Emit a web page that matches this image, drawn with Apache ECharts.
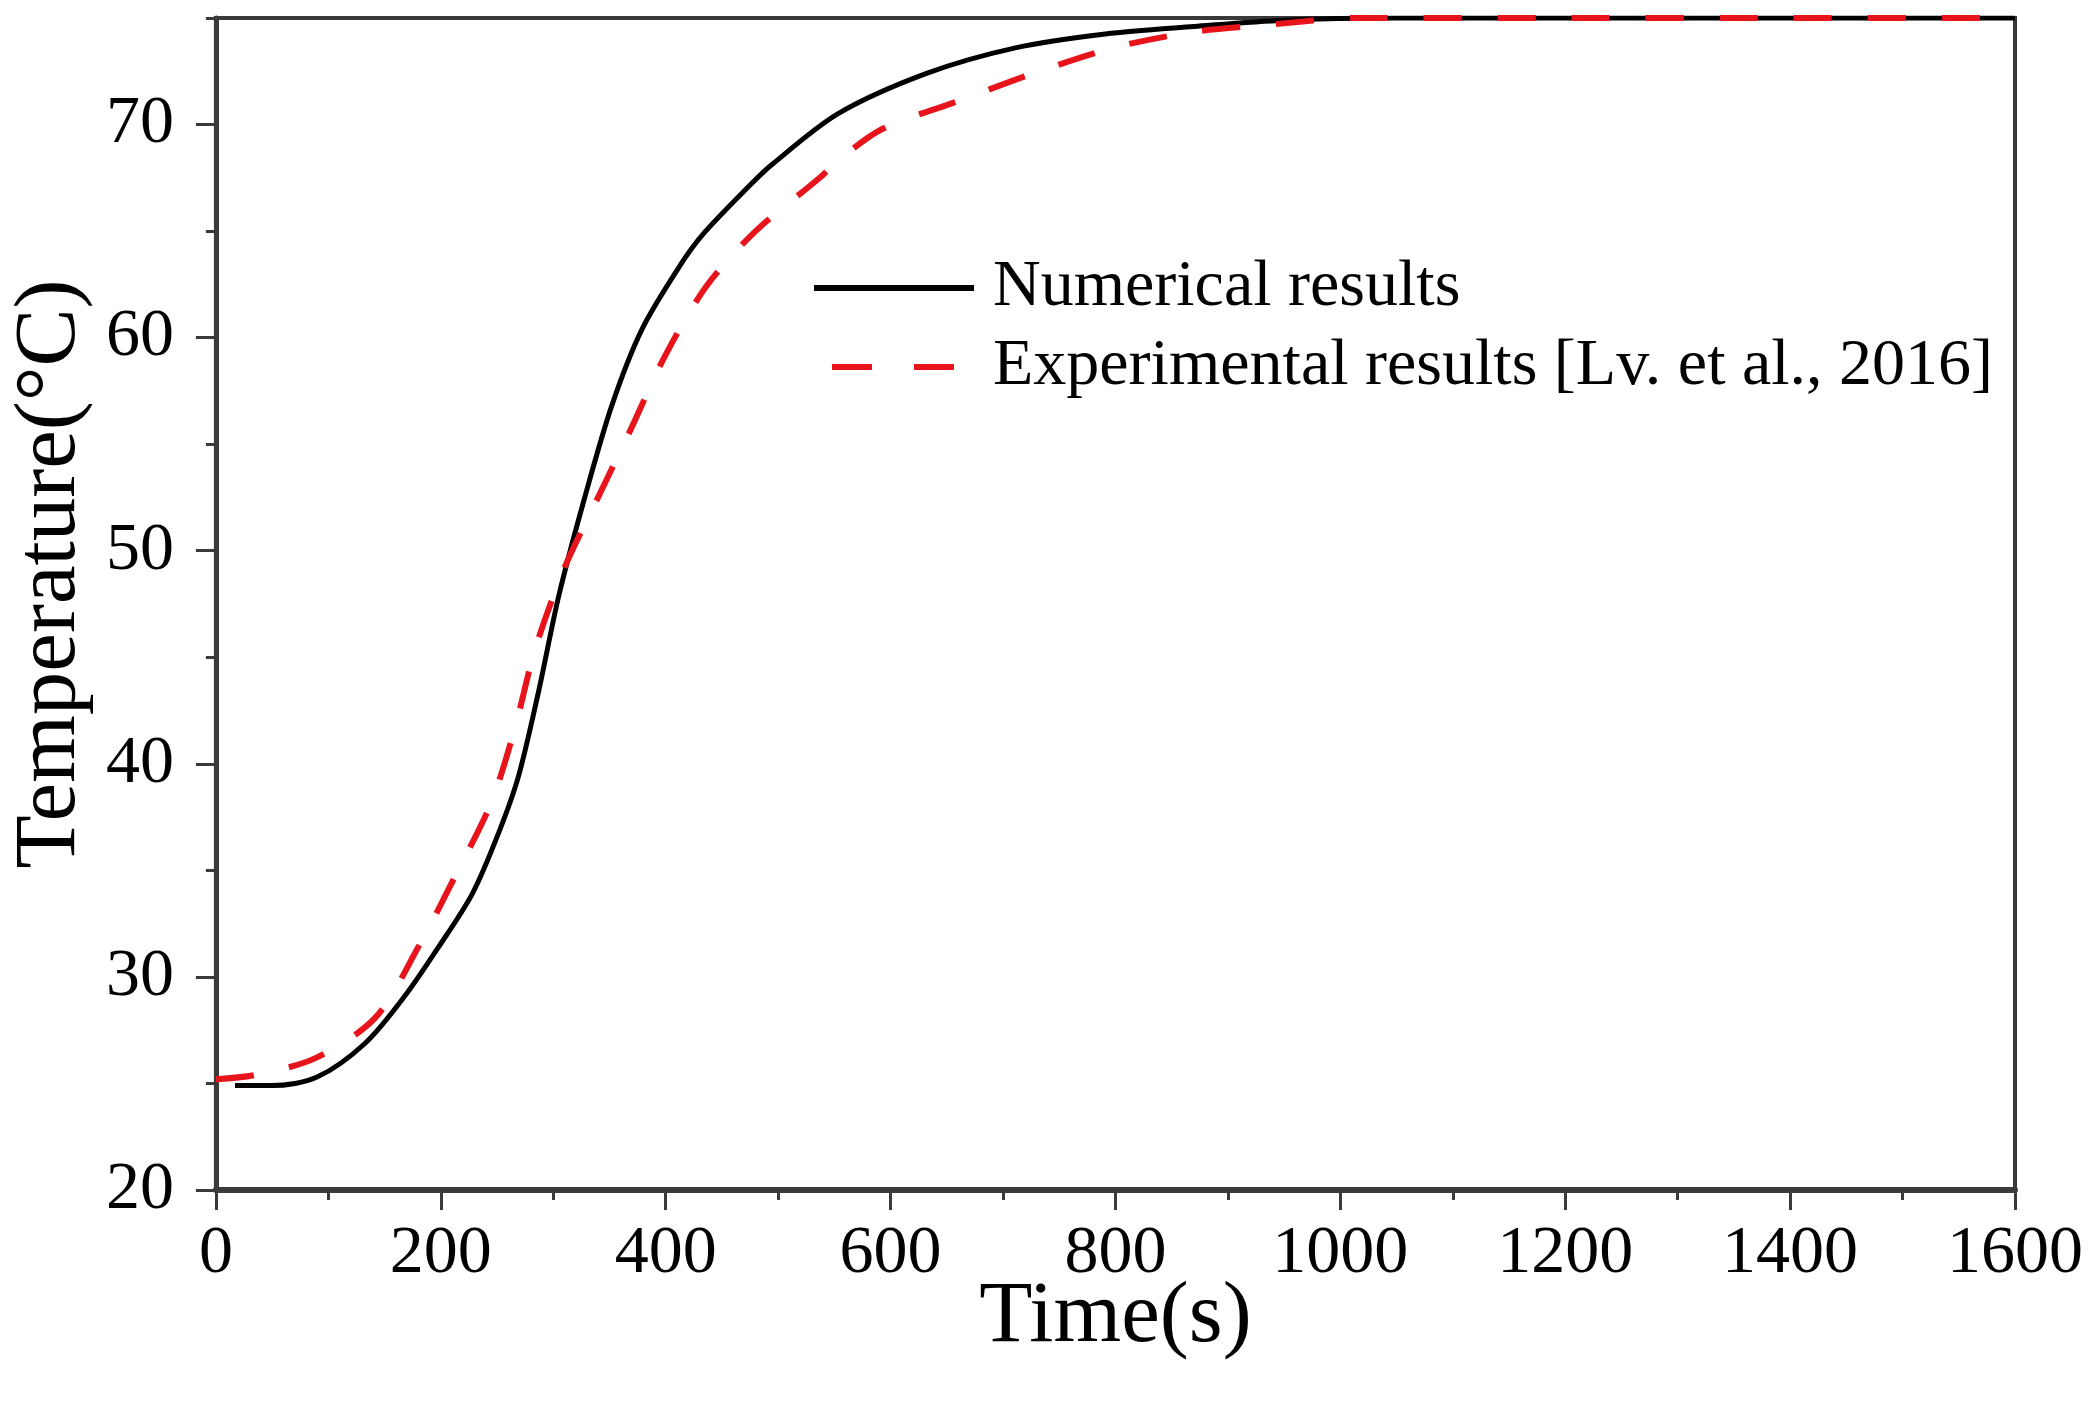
<!DOCTYPE html>
<html>
<head>
<meta charset="utf-8">
<script src="https://cdn.jsdelivr.net/npm/echarts@6/dist/echarts.min.js"></script>
<style>
    html, body {margin: 0; padding: 0; background: #fff;}
    #chart {width: 2095px; height: 1415px;}
</style>
</head>
<body>
<div id="chart"></div>
<script>
// values
let numTime = [17, 50, 90, 133, 168, 198, 228, 251, 269, 287, 305, 328, 352, 379, 413, 434, 474, 494, 553, 632, 711, 791, 870, 950, 1050, 1200, 1400, 1600];
let numTemp = [24.9, 24.9, 25.3, 26.9, 29.1, 31.4, 33.9, 36.7, 39.4, 43.4, 47.9, 52.5, 56.8, 60.4, 63.4, 64.9, 67.1, 68.1, 70.5, 72.4, 73.6, 74.25, 74.6, 74.9, 75.0, 75.0, 75.0, 75.0];

let expTime = [0, 35, 89, 142, 180, 213, 245, 266, 284, 310, 338, 369, 399, 436, 480, 537, 553, 593, 660, 727, 798, 870, 940, 1012, 1200, 1400, 1600];
let expTemp = [25.2, 25.4, 26.2, 28.1, 31.4, 34.75, 38.2, 41.7, 45.4, 49.2, 52.3, 55.7, 59.1, 62.4, 65.0, 67.5, 68.3, 69.8, 71.1, 72.4, 73.6, 74.35, 74.7, 75.0, 75.0, 75.0, 75.0];

let yTicks = [20, 30, 40, 50, 60, 70];

let font = '"Liberation Serif", "Times New Roman", serif';
let axisColor = '#3a3a3a';
let red = '#e8141c';

function pairs(xs, ys) {
    return xs.map((x, i) => [x, ys[i]]);
}

let myChart = echarts.init(document.getElementById('chart'));
let option = {
    backgroundColor: '#fff',
    animation: false,
    grid: {
        left: 210,
        right: 80,
        top: 18,
        bottom: 225,
        show: true,
        borderColor: axisColor,
        borderWidth: 4
    },
    legend: {
        orient: 'vertical',
        left: 811,
        top: 253,
        padding: 0,
        itemWidth: 160,
        itemHeight: 20,
        itemGap: 9,
        itemStyle: {opacity: 0},
        lineStyle: {width: 6},
        textStyle: {
            fontFamily: font,
            fontSize: 66,
            color: '#000',
            lineHeight: 70,
            padding: [0, 0, 0, 14]
        },
        data: [
            {name: 'Numerical results'},
            {name: 'Experimental results [Lv. et al., 2016]', lineStyle: {type: [40, 42], dashOffset: 64, width: 6}}
        ]
    },
    xAxis: {
        type: 'value',
        min: 0,
        max: 1600,
        interval: 200,
        name: 'Time(s)',
        nameLocation: 'middle',
        nameMoveOverlap: false,
        nameGap: 128,
        nameTextStyle: {fontFamily: font, fontSize: 87, color: '#000', verticalAlign: 'middle', lineHeight: 87},
        axisLine: {lineStyle: {color: axisColor, width: 6}},
        axisTick: {inside: false, length: 20, lineStyle: {color: axisColor, width: 3}},
        minorTick: {show: true, splitNumber: 2, length: 10, lineStyle: {color: axisColor, width: 3}},
        axisLabel: {fontFamily: font, fontSize: 68, color: '#000', margin: 30, formatter: v => String(v)},
        splitLine: {show: false}
    },
    yAxis: [{
        type: 'value',
        position: 'left',
        min: 20,
        max: 75,
        interval: 10,
        name: 'Temperature(°C)',
        nameLocation: 'middle',
        nameGap: 120,
        nameTextStyle: {fontFamily: font, fontSize: 87, color: '#000', padding: [0, 0, 0, 60]},
        axisLine: {show: true, lineStyle: {color: axisColor, width: 5}},
        axisTick: {inside: false, length: 20, customValues: yTicks, lineStyle: {color: axisColor, width: 3}},
        axisLabel: {fontFamily: font, fontSize: 68, color: '#000', margin: 42, customValues: yTicks},
        splitLine: {show: false}
    }, {
        // minor ticks only
        type: 'value',
        position: 'left',
        min: 20,
        max: 75,
        interval: 5,
        axisLine: {show: false},
        axisTick: {show: true, inside: false, length: 10, lineStyle: {color: axisColor, width: 3}},
        axisLabel: {show: false},
        splitLine: {show: false}
    }],
    series: [{
        name: 'Numerical results',
        type: 'line',
        yAxisIndex: 0,
        symbol: 'none',
        smooth: 0.3,
        data: pairs(numTime, numTemp),
        lineStyle: {color: '#000', width: 5},
        itemStyle: {color: '#000'}
    }, {
        name: 'Experimental results [Lv. et al., 2016]',
        type: 'line',
        yAxisIndex: 0,
        symbol: 'none',
        smooth: 0.3,
        data: pairs(expTime, expTemp),
        lineStyle: {color: red, width: 6, type: [38, 36]},
        itemStyle: {color: red}
    }]
};
myChart.setOption(option);
</script>
</body>
</html>
